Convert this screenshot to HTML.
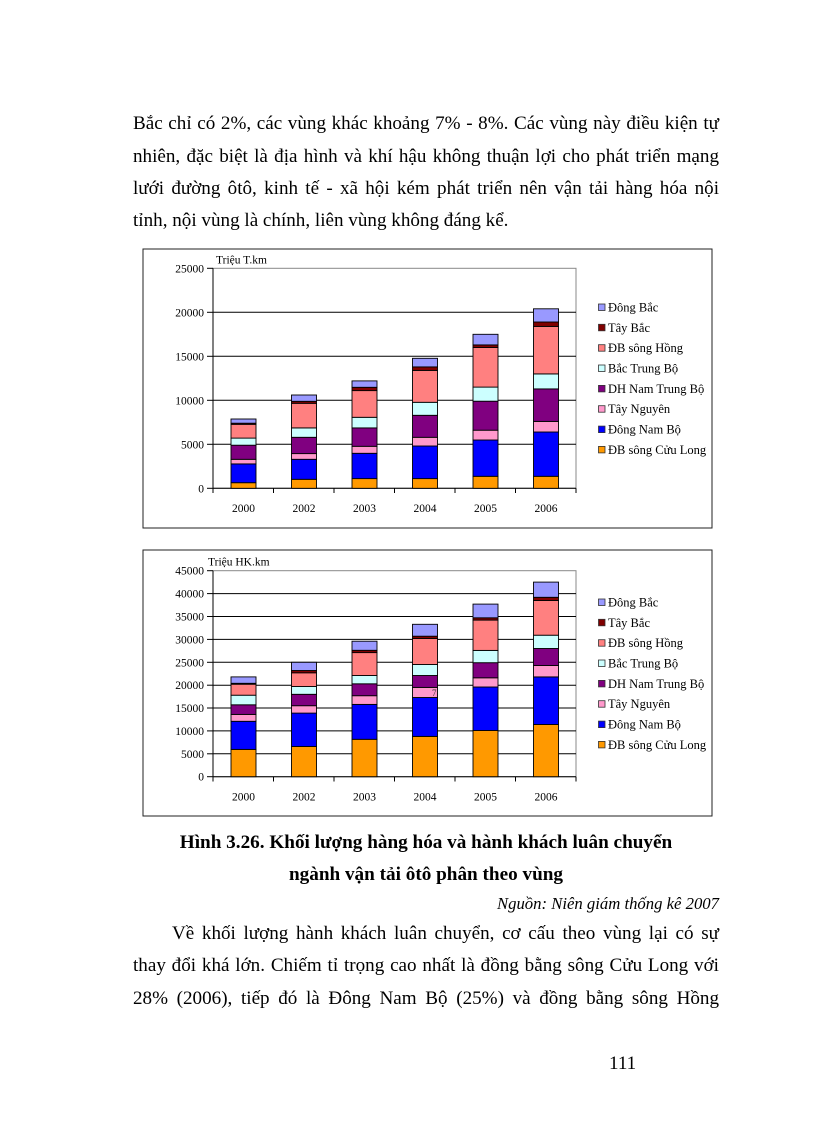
<!DOCTYPE html>
<html><head><meta charset="utf-8">
<style>
html,body{margin:0;padding:0;background:#fff;}
body{width:816px;height:1123px;position:relative;overflow:hidden;font-family:"Liberation Serif","DejaVu Serif",serif;color:#000;}
.l{position:absolute;left:133px;width:586px;font-size:19.1px;line-height:20px;white-space:nowrap;}
.j{text-align:justify;text-align-last:justify;white-space:normal;}
.c{text-align:center;font-weight:bold;font-size:19.2px;}
svg{position:absolute;left:0;top:0;}
svg text{font-family:"Liberation Serif","DejaVu Serif",serif;}
</style></head><body>
<div class="l j" style="top:114.3px">Bắc chỉ có 2%, các vùng khác khoảng 7% - 8%. Các vùng này điều kiện tự</div>
<div class="l j" style="top:146.5px">nhiên, đặc biệt là địa hình và khí hậu không thuận lợi cho phát triển mạng</div>
<div class="l j" style="top:178.7px">lưới đường ôtô, kinh tế - xã hội kém phát triển nên vận tải hàng hóa nội</div>
<div class="l" style="top:210.9px">tỉnh, nội vùng là chính, liên vùng không đáng kể.</div>

<svg width="816" height="1123" viewBox="0 0 816 1123">
<!-- Chart 1 -->
<rect x="143" y="249" width="569" height="279" fill="#fff" stroke="#222" stroke-width="1"/>
<rect x="213" y="268.3" width="363" height="220" fill="#fff" stroke="#888" stroke-width="1"/>
<g stroke="#000" stroke-width="1">
<line x1="213" y1="444.3" x2="576" y2="444.3"/>
<line x1="213" y1="400.3" x2="576" y2="400.3"/>
<line x1="213" y1="356.3" x2="576" y2="356.3"/>
<line x1="213" y1="312.3" x2="576" y2="312.3"/>
<line x1="213" y1="268.3" x2="213" y2="488.3"/>
<line x1="213" y1="488.3" x2="576" y2="488.3"/>
<line x1="207" y1="488.3" x2="213" y2="488.3"/>
<line x1="207" y1="444.3" x2="213" y2="444.3"/>
<line x1="207" y1="400.3" x2="213" y2="400.3"/>
<line x1="207" y1="356.3" x2="213" y2="356.3"/>
<line x1="207" y1="312.3" x2="213" y2="312.3"/>
<line x1="207" y1="268.3" x2="213" y2="268.3"/>
<line x1="213" y1="488.3" x2="213" y2="493"/>
<line x1="273.5" y1="488.3" x2="273.5" y2="493"/>
<line x1="334" y1="488.3" x2="334" y2="493"/>
<line x1="394.5" y1="488.3" x2="394.5" y2="493"/>
<line x1="455" y1="488.3" x2="455" y2="493"/>
<line x1="515.5" y1="488.3" x2="515.5" y2="493"/>
<line x1="576" y1="488.3" x2="576" y2="493"/>
</g>
<g font-size="11.5" text-anchor="end">
<text x="204" y="492.3">0</text>
<text x="204" y="448.3">5000</text>
<text x="204" y="404.3">10000</text>
<text x="204" y="360.3">15000</text>
<text x="204" y="316.3">20000</text>
<text x="204" y="272.3">25000</text>
</g>
<text x="216" y="263.5" font-size="11.5">Triệu T.km</text>
<g font-size="11.5" text-anchor="middle">
<text x="243.5" y="512">2000</text>
<text x="304" y="512">2002</text>
<text x="364.5" y="512">2003</text>
<text x="425" y="512">2004</text>
<text x="485.5" y="512">2005</text>
<text x="546" y="512">2006</text>
</g>
<g stroke="#000" stroke-width="0.9">
<rect x="231" y="482.7" width="25" height="5.6" fill="#ff9900"/>
<rect x="231" y="463.9" width="25" height="18.8" fill="#0000ff"/>
<rect x="231" y="459.3" width="25" height="4.6" fill="#ff99cc"/>
<rect x="231" y="445.2" width="25" height="14.1" fill="#800080"/>
<rect x="231" y="438.1" width="25" height="7.1" fill="#ccffff"/>
<rect x="231" y="424.3" width="25" height="13.8" fill="#ff8080"/>
<rect x="231" y="423.2" width="25" height="1.1" fill="#800000"/>
<rect x="231" y="419.0" width="25" height="4.2" fill="#9999ff"/>
<rect x="291.5" y="479.3" width="25" height="9.0" fill="#ff9900"/>
<rect x="291.5" y="459.3" width="25" height="20.0" fill="#0000ff"/>
<rect x="291.5" y="453.6" width="25" height="5.7" fill="#ff99cc"/>
<rect x="291.5" y="437.3" width="25" height="16.3" fill="#800080"/>
<rect x="291.5" y="427.9" width="25" height="9.4" fill="#ccffff"/>
<rect x="291.5" y="403.3" width="25" height="24.6" fill="#ff8080"/>
<rect x="291.5" y="401.3" width="25" height="2.0" fill="#800000"/>
<rect x="291.5" y="395.0" width="25" height="6.3" fill="#9999ff"/>
<rect x="352" y="478.6" width="25" height="9.7" fill="#ff9900"/>
<rect x="352" y="453.3" width="25" height="25.3" fill="#0000ff"/>
<rect x="352" y="446.3" width="25" height="7.0" fill="#ff99cc"/>
<rect x="352" y="427.9" width="25" height="18.4" fill="#800080"/>
<rect x="352" y="417.3" width="25" height="10.6" fill="#ccffff"/>
<rect x="352" y="390.6" width="25" height="26.7" fill="#ff8080"/>
<rect x="352" y="387.3" width="25" height="3.3" fill="#800000"/>
<rect x="352" y="380.9" width="25" height="6.4" fill="#9999ff"/>
<rect x="412.5" y="478.6" width="25" height="9.7" fill="#ff9900"/>
<rect x="412.5" y="446.0" width="25" height="32.6" fill="#0000ff"/>
<rect x="412.5" y="437.3" width="25" height="8.7" fill="#ff99cc"/>
<rect x="412.5" y="415.3" width="25" height="22.0" fill="#800080"/>
<rect x="412.5" y="402.3" width="25" height="13.0" fill="#ccffff"/>
<rect x="412.5" y="370.4" width="25" height="31.9" fill="#ff8080"/>
<rect x="412.5" y="366.9" width="25" height="3.5" fill="#800000"/>
<rect x="412.5" y="358.3" width="25" height="8.6" fill="#9999ff"/>
<rect x="473" y="476.3" width="25" height="12.0" fill="#ff9900"/>
<rect x="473" y="440.0" width="25" height="36.3" fill="#0000ff"/>
<rect x="473" y="430.2" width="25" height="9.8" fill="#ff99cc"/>
<rect x="473" y="401.2" width="25" height="29.0" fill="#800080"/>
<rect x="473" y="387.1" width="25" height="14.1" fill="#ccffff"/>
<rect x="473" y="347.5" width="25" height="39.6" fill="#ff8080"/>
<rect x="473" y="344.9" width="25" height="2.6" fill="#800000"/>
<rect x="473" y="334.3" width="25" height="10.6" fill="#9999ff"/>
<rect x="533.5" y="476.3" width="25" height="12.0" fill="#ff9900"/>
<rect x="533.5" y="432.0" width="25" height="44.3" fill="#0000ff"/>
<rect x="533.5" y="421.4" width="25" height="10.6" fill="#ff99cc"/>
<rect x="533.5" y="388.9" width="25" height="32.5" fill="#800080"/>
<rect x="533.5" y="373.9" width="25" height="15.0" fill="#ccffff"/>
<rect x="533.5" y="326.4" width="25" height="47.5" fill="#ff8080"/>
<rect x="533.5" y="322.0" width="25" height="4.4" fill="#800000"/>
<rect x="533.5" y="308.8" width="25" height="13.2" fill="#9999ff"/>
</g>
<g stroke="#333" stroke-width="0.8">
<rect x="598.5" y="304" width="6.5" height="6.5" fill="#9999ff"/>
<rect x="598.5" y="324.3" width="6.5" height="6.5" fill="#800000"/>
<rect x="598.5" y="344.7" width="6.5" height="6.5" fill="#ff8080"/>
<rect x="598.5" y="365" width="6.5" height="6.5" fill="#ccffff"/>
<rect x="598.5" y="385.4" width="6.5" height="6.5" fill="#800080"/>
<rect x="598.5" y="405.7" width="6.5" height="6.5" fill="#ff99cc"/>
<rect x="598.5" y="426.1" width="6.5" height="6.5" fill="#0000ff"/>
<rect x="598.5" y="446.4" width="6.5" height="6.5" fill="#ff9900"/>
</g>
<g font-size="12.5">
<text x="608" y="311.5">Đông Bắc</text>
<text x="608" y="331.8">Tây Bắc</text>
<text x="608" y="352.2">ĐB sông Hồng</text>
<text x="608" y="372.5">Bắc Trung Bộ</text>
<text x="608" y="392.9">DH Nam Trung Bộ</text>
<text x="608" y="413.2">Tây Nguyên</text>
<text x="608" y="433.6">Đông Nam Bộ</text>
<text x="608" y="453.9">ĐB sông Cửu Long</text>
</g>

<!-- Chart 2 -->
<rect x="143" y="550" width="569" height="266" fill="#fff" stroke="#222" stroke-width="1"/>
<rect x="213" y="570.7" width="363" height="206" fill="#fff" stroke="#888" stroke-width="1"/>
<g stroke="#000" stroke-width="1">
<line x1="213" y1="753.8" x2="576" y2="753.8"/>
<line x1="213" y1="730.9" x2="576" y2="730.9"/>
<line x1="213" y1="708.0" x2="576" y2="708.0"/>
<line x1="213" y1="685.2" x2="576" y2="685.2"/>
<line x1="213" y1="662.3" x2="576" y2="662.3"/>
<line x1="213" y1="639.4" x2="576" y2="639.4"/>
<line x1="213" y1="616.5" x2="576" y2="616.5"/>
<line x1="213" y1="593.6" x2="576" y2="593.6"/>
<line x1="213" y1="570.7" x2="213" y2="776.7"/>
<line x1="213" y1="776.7" x2="576" y2="776.7"/>
<line x1="207" y1="776.7" x2="213" y2="776.7"/>
<line x1="207" y1="753.8" x2="213" y2="753.8"/>
<line x1="207" y1="730.9" x2="213" y2="730.9"/>
<line x1="207" y1="708.0" x2="213" y2="708.0"/>
<line x1="207" y1="685.2" x2="213" y2="685.2"/>
<line x1="207" y1="662.3" x2="213" y2="662.3"/>
<line x1="207" y1="639.4" x2="213" y2="639.4"/>
<line x1="207" y1="616.5" x2="213" y2="616.5"/>
<line x1="207" y1="593.6" x2="213" y2="593.6"/>
<line x1="207" y1="570.7" x2="213" y2="570.7"/>
<line x1="213" y1="776.7" x2="213" y2="781.5"/>
<line x1="273.5" y1="776.7" x2="273.5" y2="781.5"/>
<line x1="334" y1="776.7" x2="334" y2="781.5"/>
<line x1="394.5" y1="776.7" x2="394.5" y2="781.5"/>
<line x1="455" y1="776.7" x2="455" y2="781.5"/>
<line x1="515.5" y1="776.7" x2="515.5" y2="781.5"/>
<line x1="576" y1="776.7" x2="576" y2="781.5"/>
</g>
<g font-size="11.5" text-anchor="end">
<text x="204" y="780.7">0</text>
<text x="204" y="757.8">5000</text>
<text x="204" y="734.9">10000</text>
<text x="204" y="712.0">15000</text>
<text x="204" y="689.2">20000</text>
<text x="204" y="666.3">25000</text>
<text x="204" y="643.4">30000</text>
<text x="204" y="620.5">35000</text>
<text x="204" y="597.6">40000</text>
<text x="204" y="574.7">45000</text>
</g>
<text x="208" y="565.5" font-size="11.5">Triệu HK.km</text>
<g font-size="11.5" text-anchor="middle">
<text x="243.5" y="800.5">2000</text>
<text x="304" y="800.5">2002</text>
<text x="364.5" y="800.5">2003</text>
<text x="425" y="800.5">2004</text>
<text x="485.5" y="800.5">2005</text>
<text x="546" y="800.5">2006</text>
</g>
<g stroke="#000" stroke-width="0.9">
<rect x="231" y="749.4" width="25" height="27.3" fill="#ff9900"/>
<rect x="231" y="721.3" width="25" height="28.1" fill="#0000ff"/>
<rect x="231" y="714.4" width="25" height="6.9" fill="#ff99cc"/>
<rect x="231" y="704.8" width="25" height="9.6" fill="#800080"/>
<rect x="231" y="695.2" width="25" height="9.6" fill="#ccffff"/>
<rect x="231" y="684.2" width="25" height="11.0" fill="#ff8080"/>
<rect x="231" y="683.3" width="25" height="0.9" fill="#800000"/>
<rect x="231" y="676.9" width="25" height="6.4" fill="#9999ff"/>
<rect x="291.5" y="746.5" width="25" height="30.2" fill="#ff9900"/>
<rect x="291.5" y="713.1" width="25" height="33.4" fill="#0000ff"/>
<rect x="291.5" y="705.7" width="25" height="7.4" fill="#ff99cc"/>
<rect x="291.5" y="694.3" width="25" height="11.4" fill="#800080"/>
<rect x="291.5" y="686.5" width="25" height="7.8" fill="#ccffff"/>
<rect x="291.5" y="672.8" width="25" height="13.7" fill="#ff8080"/>
<rect x="291.5" y="670.5" width="25" height="2.3" fill="#800000"/>
<rect x="291.5" y="662.3" width="25" height="8.2" fill="#9999ff"/>
<rect x="352" y="739.3" width="25" height="37.4" fill="#ff9900"/>
<rect x="352" y="704.4" width="25" height="34.9" fill="#0000ff"/>
<rect x="352" y="695.7" width="25" height="8.7" fill="#ff99cc"/>
<rect x="352" y="683.8" width="25" height="11.9" fill="#800080"/>
<rect x="352" y="675.5" width="25" height="8.3" fill="#ccffff"/>
<rect x="352" y="652.6" width="25" height="22.9" fill="#ff8080"/>
<rect x="352" y="650.3" width="25" height="2.3" fill="#800000"/>
<rect x="352" y="641.2" width="25" height="9.1" fill="#9999ff"/>
<rect x="412.5" y="736.4" width="25" height="40.3" fill="#ff9900"/>
<rect x="412.5" y="697.5" width="25" height="38.9" fill="#0000ff"/>
<rect x="412.5" y="687.4" width="25" height="10.1" fill="#ff99cc"/>
<rect x="412.5" y="675.5" width="25" height="11.9" fill="#800080"/>
<rect x="412.5" y="664.5" width="25" height="11.0" fill="#ccffff"/>
<rect x="412.5" y="638.5" width="25" height="26.0" fill="#ff8080"/>
<rect x="412.5" y="636.2" width="25" height="2.3" fill="#800000"/>
<rect x="412.5" y="624.3" width="25" height="11.9" fill="#9999ff"/>
<rect x="473" y="730.5" width="25" height="46.2" fill="#ff9900"/>
<rect x="473" y="687.0" width="25" height="43.5" fill="#0000ff"/>
<rect x="473" y="677.8" width="25" height="9.2" fill="#ff99cc"/>
<rect x="473" y="662.7" width="25" height="15.1" fill="#800080"/>
<rect x="473" y="650.4" width="25" height="12.3" fill="#ccffff"/>
<rect x="473" y="620.1" width="25" height="30.3" fill="#ff8080"/>
<rect x="473" y="617.8" width="25" height="2.3" fill="#800000"/>
<rect x="473" y="604.1" width="25" height="13.7" fill="#9999ff"/>
<rect x="533.5" y="724.5" width="25" height="52.2" fill="#ff9900"/>
<rect x="533.5" y="676.9" width="25" height="47.6" fill="#0000ff"/>
<rect x="533.5" y="665.5" width="25" height="11.4" fill="#ff99cc"/>
<rect x="533.5" y="648.5" width="25" height="17.0" fill="#800080"/>
<rect x="533.5" y="635.2" width="25" height="13.3" fill="#ccffff"/>
<rect x="533.5" y="600.5" width="25" height="34.7" fill="#ff8080"/>
<rect x="533.5" y="597.3" width="25" height="3.2" fill="#800000"/>
<rect x="533.5" y="582.1" width="25" height="15.2" fill="#9999ff"/>
</g>
<text x="432" y="696" font-size="9" fill="#333">7</text>
<g stroke="#333" stroke-width="0.8">
<rect x="598.5" y="599" width="6.5" height="6.5" fill="#9999ff"/>
<rect x="598.5" y="619.3" width="6.5" height="6.5" fill="#800000"/>
<rect x="598.5" y="639.7" width="6.5" height="6.5" fill="#ff8080"/>
<rect x="598.5" y="660" width="6.5" height="6.5" fill="#ccffff"/>
<rect x="598.5" y="680.4" width="6.5" height="6.5" fill="#800080"/>
<rect x="598.5" y="700.7" width="6.5" height="6.5" fill="#ff99cc"/>
<rect x="598.5" y="721.1" width="6.5" height="6.5" fill="#0000ff"/>
<rect x="598.5" y="741.4" width="6.5" height="6.5" fill="#ff9900"/>
</g>
<g font-size="12.5">
<text x="608" y="606.5">Đông Bắc</text>
<text x="608" y="626.8">Tây Bắc</text>
<text x="608" y="647.2">ĐB sông Hồng</text>
<text x="608" y="667.5">Bắc Trung Bộ</text>
<text x="608" y="687.9">DH Nam Trung Bộ</text>
<text x="608" y="708.2">Tây Nguyên</text>
<text x="608" y="728.6">Đông Nam Bộ</text>
<text x="608" y="748.9">ĐB sông Cửu Long</text>
</g>
</svg>

<div class="l c" style="top:833.1px">Hình 3.26. Khối lượng hàng hóa và hành khách luân chuyển</div>
<div class="l c" style="top:864.6px">ngành vận tải ôtô phân theo vùng</div>
<div class="l" style="top:894.3px;font-size:16.7px;font-style:italic;text-align:right;">Nguồn: Niên giám thống kê 2007</div>
<div class="l j" style="top:923.6px;left:172px;width:547px">Về khối lượng hành khách luân chuyển, cơ cấu theo vùng lại có sự</div>
<div class="l j" style="top:956.1px">thay đổi khá lớn. Chiếm tỉ trọng cao nhất là đồng bằng sông Cửu Long với</div>
<div class="l j" style="top:988.6px">28% (2006), tiếp đó là Đông Nam Bộ (25%) và đồng bằng sông Hồng</div>
<div class="l" style="top:1054.3px;left:609px;width:40px">111</div>
</body></html>
